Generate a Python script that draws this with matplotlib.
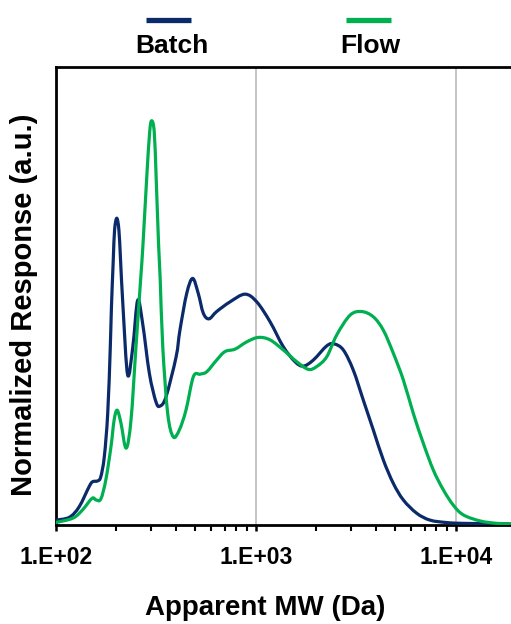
import matplotlib
matplotlib.use("Agg")
import numpy as np
import matplotlib.pyplot as plt
from matplotlib.lines import Line2D
from matplotlib.path import Path
from matplotlib.patches import PathPatch
from matplotlib.ticker import FixedLocator, NullFormatter

plt.rcParams['font.family'] = ['Liberation Sans', 'DejaVu Sans']

# apparent MW (Da) and normalized response
batch_mw = [100, 117, 131, 147, 153, 162, 168, 175, 182, 187.5, 190, 194, 197, 202,
            207, 211, 217, 229, 243, 257, 272, 294, 317, 332, 356, 400, 418, 452,
            484, 516, 547, 584, 638, 744, 884, 1012, 1179, 1374, 1572, 1730, 1941,
            2265, 2464, 2742, 3076, 3451, 3873, 4345, 4875, 5470, 6383, 7439, 9016,
            10914, 18900]
batch_resp = [0.012, 0.019, 0.045, 0.095, 0.107, 0.109, 0.119, 0.169, 0.276, 0.441,
              0.540, 0.655, 0.730, 0.759, 0.730, 0.655, 0.540, 0.371, 0.441, 0.556,
              0.499, 0.375, 0.305, 0.294, 0.317, 0.416, 0.482, 0.573, 0.610, 0.573,
              0.524, 0.510, 0.528, 0.552, 0.571, 0.552, 0.503, 0.441, 0.404, 0.393,
              0.408, 0.443, 0.448, 0.433, 0.383, 0.309, 0.235, 0.161, 0.103, 0.062,
              0.029, 0.012, 0.006, 0.004, 0.0025]

flow_mw = [100, 122, 136, 152, 159, 168, 178, 189, 196, 203, 212, 225, 238, 252,
           266, 273, 285, 295, 302, 311, 318, 327, 333, 343, 363, 387, 415, 448,
           488, 527, 569, 638, 702, 788, 902, 1030, 1179, 1374, 1603, 1832, 2018,
           2265, 2541, 2962, 3388, 3873, 4345, 4875, 5470, 6138, 6887, 7727, 8670,
           9727, 10914, 13230, 16032, 18900]
flow_resp = [0.006, 0.017, 0.037, 0.066, 0.062, 0.064, 0.111, 0.194, 0.260, 0.284,
             0.252, 0.190, 0.260, 0.441, 0.609, 0.692, 0.857, 0.972, 1.0, 0.972,
             0.857, 0.692, 0.609, 0.441, 0.276, 0.218, 0.235, 0.284, 0.367, 0.373,
             0.379, 0.408, 0.429, 0.435, 0.453, 0.464, 0.458, 0.433, 0.404, 0.385,
             0.392, 0.416, 0.470, 0.519, 0.528, 0.515, 0.482, 0.425, 0.359, 0.276,
             0.202, 0.136, 0.087, 0.049, 0.025, 0.010, 0.004, 0.0025]

navy = '#0B2A69'
green = '#00B050'


def smooth_path(xs, ys):
    # Excel-style smoothed line: cubic Bezier segments through every point,
    # control points worked out in log-x space
    lx = np.log10(xs)
    y = np.asarray(ys, dtype=float)
    n = len(lx)
    verts = [(xs[0], y[0])]
    codes = [Path.MOVETO]
    for i in range(n - 1):
        p0 = max(i - 1, 0)
        p3 = min(i + 2, n - 1)
        c1 = (lx[i] + (lx[i + 1] - lx[p0]) / 6, y[i] + (y[i + 1] - y[p0]) / 6)
        c2 = (lx[i + 1] - (lx[p3] - lx[i]) / 6, y[i + 1] - (y[p3] - y[i]) / 6)
        verts += [(10 ** c1[0], c1[1]), (10 ** c2[0], c2[1]), (xs[i + 1], y[i + 1])]
        codes += [Path.CURVE4] * 3
    return Path(verts, codes)


fig = plt.figure(figsize=(5.11, 6.24), dpi=100)
ax = fig.add_axes([0.109, 0.1587, 0.891, 0.7339])

ax.set_xscale('log')
ax.set_xlim(100, 18900)
ax.set_ylim(0, 1.133)
ax.set_yticks([])

for xs, ys, c in [(batch_mw, batch_resp, navy), (flow_mw, flow_resp, green)]:
    ax.add_patch(PathPatch(smooth_path(xs, ys), fill=False, edgecolor=c, lw=2.3,
                           joinstyle='round', capstyle='round', zorder=3))

ax.set_xticks([100, 1000, 10000])
ax.set_xticklabels(['1.E+02', '1.E+03', '1.E+04'], fontsize=16.5, fontweight='bold')
minors = [m * d for d in (100, 1000, 10000) for m in range(2, 10) if m * d < 18900]
ax.xaxis.set_minor_locator(FixedLocator(minors))
ax.xaxis.set_minor_formatter(NullFormatter())
ax.tick_params(axis='x', which='major', direction='out', length=4.5, width=1.8,
               color='black', pad=11)
ax.tick_params(axis='x', which='minor', direction='out', length=4.5, width=1.5,
               color='black')
ax.grid(True, axis='x', which='major', color='#BFBFBF', lw=1.3)

for s in ['left', 'bottom', 'top']:
    ax.spines[s].set_linewidth(2)
    ax.spines[s].set_color('black')
ax.spines['right'].set_visible(False)

fig.text(265 / 511, 1 - 615 / 624, 'Apparent MW (Da)', fontsize=20, fontweight='bold',
         ha='center', va='baseline')
fig.text(24 / 511, 1 - 305 / 624, 'Normalized Response (a.u.)', fontsize=21,
         fontweight='bold', rotation=90, ha='center', va='center')

# legend: short line above each label
for x0, x1, xc, name, c in [(146, 191, 172, 'Batch', navy), (346, 391, 370, 'Flow', green)]:
    fig.add_artist(Line2D([x0 / 511, x1 / 511], [1 - 20 / 624, 1 - 20 / 624],
                          color=c, lw=3.8, solid_capstyle='butt'))
    fig.text(xc / 511, 1 - 46 / 624, name, fontsize=19, fontweight='bold',
             ha='center', va='center')

fig.savefig('out.png', dpi=100)
